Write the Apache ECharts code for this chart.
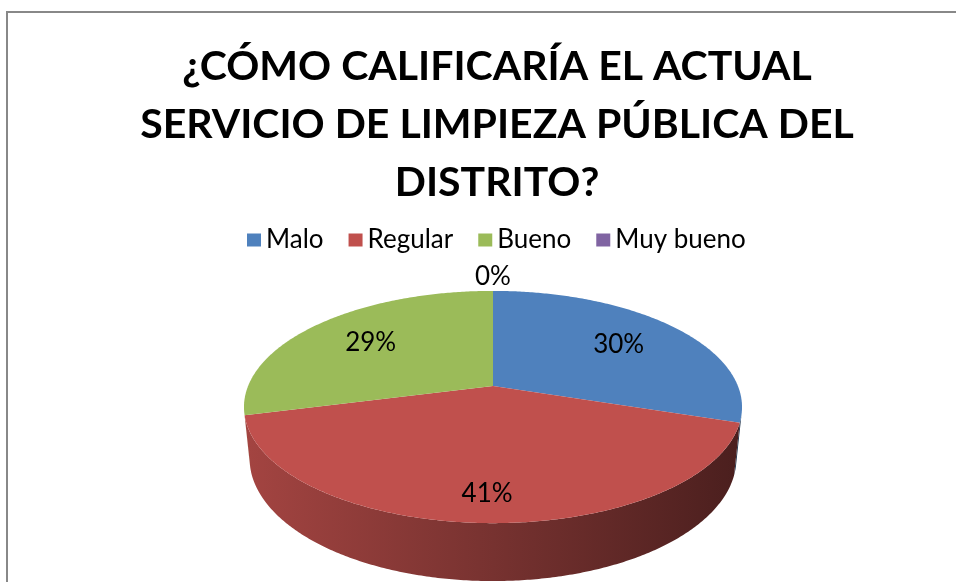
<!DOCTYPE html>
<html>
<head>
<meta charset="utf-8">
<title>Servicio de limpieza pública</title>
<script src="https://cdn.jsdelivr.net/npm/echarts@6/dist/echarts.min.js"></script>
<style>
  html, body { margin: 0; padding: 0; background: #fff; }
  #chart { width: 956px; height: 582px; }
</style>
</head>
<body>
<div id="chart"></div>
<script>
const titleText = "¿CÓMO CALIFICARÍA EL ACTUAL\nSERVICIO DE LIMPIEZA PÚBLICA DEL\nDISTRITO?";
const categories = ["Malo", "Regular", "Bueno", "Muy bueno"];
const values = [30, 41, 29, 0];
const colors = ["#4F81BD", "#C0504D", "#9BBB59", "#8064A2"];

const total = values.reduce((a, b) => a + b, 0);
const starts = [];
let acc = 0;
values.forEach(v => {
  starts.push(acc);
  acc += v;
});

// camera for the 3d pie: tilt, distance and focal length, pie radius = 1
const view = {
  cx: 493,
  cy: 386,
  tilt: 27.3 * Math.PI / 180,
  dist: 4.912,
  focal: 1203,
  depth: 0.238
};

function project(x, y, z) {
  // x right, y up, z towards the viewer
  const s = Math.sin(view.tilt), c = Math.cos(view.tilt);
  const yv = -y * c + z * s;
  const d = view.dist - z * c - y * s;
  return [view.cx + view.focal * x / d, view.cy + view.focal * yv / d];
}

// t = angle clockwise from 12 o'clock
function rim(t, r, y) {
  return project(r * Math.sin(t), y, -r * Math.cos(t));
}

function arcPoints(t0, t1, r, y) {
  const n = Math.max(2, Math.ceil(Math.abs(t1 - t0) / 0.01));
  const pts = [];
  for (let k = 0; k <= n; k++) {
    pts.push(rim(t0 + (t1 - t0) * k / n, r, y));
  }
  return pts;
}

function shade(hex, f) {
  const n = parseInt(hex.slice(1), 16);
  const r = Math.round(((n >> 16) & 255) * f);
  const g = Math.round(((n >> 8) & 255) * f);
  const b = Math.round((n & 255) * f);
  return "rgb(" + r + "," + g + "," + b + ")";
}

function sideFill(hex) {
  const left = rim(-Math.PI / 2, 1, 0)[0];
  const right = rim(Math.PI / 2, 1, 0)[0];
  return new echarts.graphic.LinearGradient(left, 0, right, 0, [
    { offset: 0, color: shade(hex, 0.85) },
    { offset: 0.5, color: shade(hex, 0.62) },
    { offset: 1, color: shade(hex, 0.39) }
  ], true);
}

// front part of the wall that faces the camera
const wallLimit = Math.acos(-1 / (view.dist * Math.cos(view.tilt)));

function renderSlice(i) {
  return function (params, api) {
    const v = api.value(0);
    const t0 = starts[i] / total * 2 * Math.PI;
    const t1 = (starts[i] + v) / total * 2 * Math.PI;
    const children = [];
    if (v > 0) {
      const a = Math.max(t0, wallLimit);
      const b = Math.min(t1, 2 * Math.PI - wallLimit);
      if (b > a) {
        children.push({
          type: "polygon",
          z2: 1,
          shape: { points: arcPoints(a, b, 1, 0).concat(arcPoints(b, a, 1, -view.depth)) },
          style: { fill: sideFill(colors[i]) }
        });
      }
      children.push({
        type: "polygon",
        z2: 10,
        shape: { points: [project(0, 0, 0)].concat(arcPoints(t0, t1, 1, 0)) },
        style: { fill: colors[i] }
      });
    }
    const pct = Math.round(v / total * 100) + "%";
    let pos;
    if (v > 0) {
      const tm = (t0 + t1) / 2;
      const r = 0.68;
      const z = -r * Math.cos(tm);
      pos = project(r * Math.sin(tm), -0.55 * view.depth * Math.max(0, z), z);
    } else {
      pos = rim(t0, 1, 0);
      pos[1] -= 1;
    }
    children.push({
      type: "text",
      z2: 20,
      x: pos[0],
      y: pos[1],
      style: {
        text: pct,
        fill: "#000",
        font: "26px Lato",
        align: "center",
        verticalAlign: v > 0 ? "middle" : "bottom"
      }
    });
    return { type: "group", children: children };
  };
}

const chart = echarts.init(document.getElementById("chart"));

chart.setOption({
  backgroundColor: "#fff",
  animation: false,
  title: {
    text: titleText,
    left: 492,
    top: 33,
    textAlign: "center",
    textStyle: {
      fontFamily: "Lato",
      fontWeight: "bold",
      fontSize: 41,
      lineHeight: 58,
      color: "#000"
    }
  },
  legend: {
    data: categories,
    left: 242,
    top: 222,
    icon: "rect",
    itemWidth: 14,
    itemHeight: 13,
    itemGap: 25,
    selectedMode: false,
    textStyle: { fontFamily: "Lato", fontSize: 26, color: "#000" }
  },
  graphic: [{
    type: "rect",
    shape: { x: 7, y: 12, width: 1000, height: 1000 },
    style: { fill: "none", stroke: "#888", lineWidth: 2 },
    silent: true
  }],
  series: categories.map((name, i) => ({
    type: "custom",
    name: name,
    coordinateSystem: "none",
    itemStyle: { color: colors[i] },
    data: [values[i]],
    renderItem: renderSlice(i)
  }))
});
</script>
</body>
</html>
